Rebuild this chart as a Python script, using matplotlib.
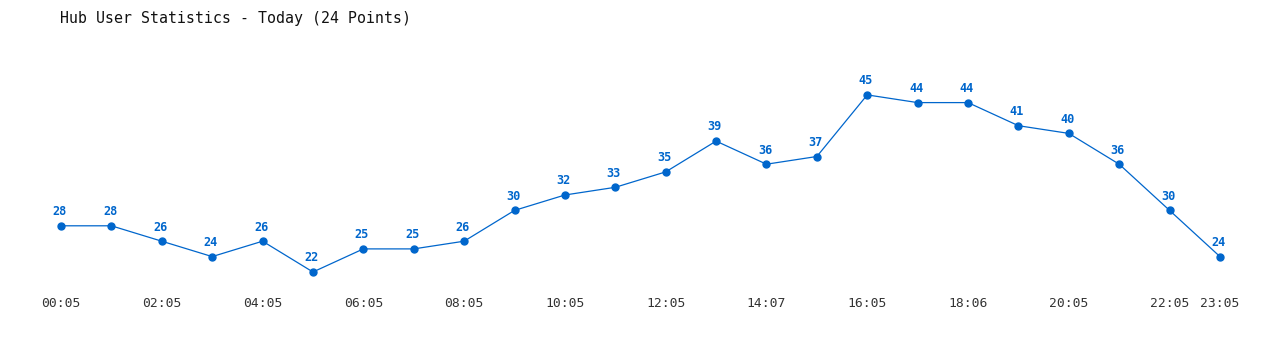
import matplotlib
matplotlib.use("Agg")
import matplotlib.pyplot as plt

title = "Hub User Statistics - Today (24 Points)"
values = [28, 28, 26, 24, 26, 22, 25, 25, 26, 30, 32, 33, 35, 39, 36, 37, 45, 44, 44, 41, 40, 36, 30, 24]
tick_positions = [0, 2, 4, 6, 8, 10, 12, 14, 16, 18, 20, 22, 23]
tick_labels = ["00:05", "02:05", "04:05", "06:05", "08:05", "10:05", "12:05",
               "14:07", "16:05", "18:06", "20:05", "22:05", "23:05"]

color = "#0066cc"
mono = "DejaVu Sans Mono"

fig = plt.figure(figsize=(12.8, 3.5), dpi=100)
ax = fig.add_axes([0, 60 / 350, 1, 260 / 350])
x = list(range(len(values)))
ax.plot(x, values, color=color, lw=0.9, marker="o", ms=5, zorder=3)
for xi, v in zip(x, values):
    ax.annotate(str(v), (xi, v), xytext=(-1, 5.5), textcoords="offset points",
                ha="center", va="bottom", fontsize=8.6, fontweight="bold",
                color=color, family=mono)

px = 50.39
ax.set_xlim(-61 / px, (1280 - 61) / px)
ax.set_ylim(22 - 18 / 7.7, 22 + 242 / 7.7)
ax.set_xticks(tick_positions)
ax.set_xticklabels(tick_labels, family=mono, fontsize=9.4, color="#333333")
ax.tick_params(axis="x", length=0, pad=5)
ax.set_yticks([])
for s in ax.spines.values():
    s.set_visible(False)

fig.text(60 / 1280, 1 - 18 / 350, title, ha="left", va="center",
         fontsize=10.7, family=mono, color="#111111")

fig.savefig("out.png", dpi=100)
